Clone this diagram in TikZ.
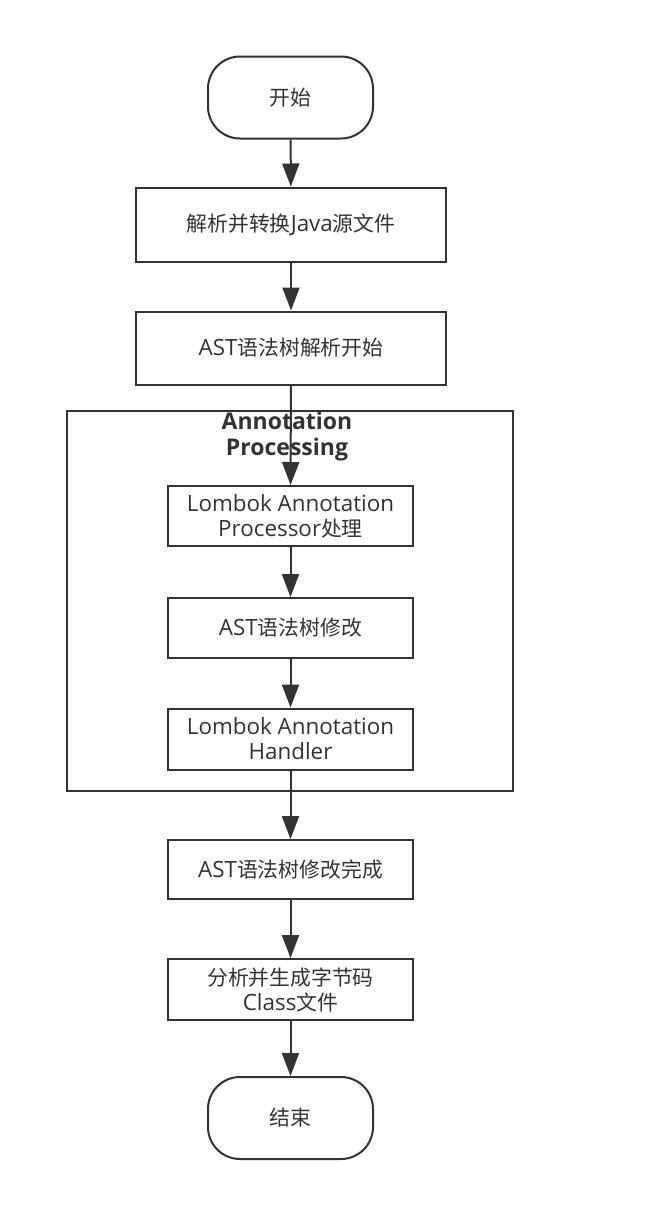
\documentclass[tikz,border=0pt]{standalone}
\usepackage{fontspec}
\setmainfont{Open Sans}
\newfontfamily\cjk{Noto Sans CJK SC}[Scale=0.93]
\usetikzlibrary{arrows.meta,positioning}
\definecolor{ink}{HTML}{333333}
\tikzset{
  base/.style={draw=ink,line width=2pt,text=ink,align=center,inner sep=0pt,
    font=\fontsize{22.4}{25}\selectfont},
  term/.style={base,rounded corners=32pt,minimum width=165pt,minimum height=82pt},
  bigbox/.style={base,minimum width=310pt,minimum height=73pt},
  smallbox/.style={base,minimum width=245pt,minimum height=60pt},
  flow/.style={draw=ink,line width=2pt,-{Triangle[length=23pt,width=17pt]}},
  grp/.style={draw=ink,line width=2pt},
  grptitle/.style={text=ink,align=center,inner sep=0pt,font=\fontsize{23}{26}\selectfont\bfseries}
}
\begin{document}
\begin{tikzpicture}[x=1pt,y=-1pt]
\useasboundingbox (0,0) rectangle (654,1216);
\node[grp,inner sep=0pt,minimum width=446pt,minimum height=380pt] (container) at (290,601) {};
\node[grptitle,anchor=north] (title) at (287,412) {Annotation\\Processing};
\node[term] (start) at (290.5,97.5) {\cjk 开始};
\node[bigbox,minimum height=74pt] (b1) at (291,224.5) {\cjk 解析并转换\fontspec{Open Sans}Java\cjk 源文件};
\node[bigbox] (b2) at (291,348) {AST\cjk 语法树解析开始};
\node[smallbox] (b3) at (290.5,516) {Lombok Annotation\\Processor\cjk 处理};
\node[smallbox] (b4) at (290.5,628) {AST\cjk 语法树修改};
\node[smallbox,minimum height=61pt] (b5) at (290.5,739) {Lombok Annotation\\Handler};
\node[smallbox,minimum height=59pt] (b6) at (290.5,869.5) {AST\cjk 语法树修改完成};
\node[smallbox,minimum height=61pt] (b7) at (290.5,989.5) {\cjk 分析并生成字节码\\Class\cjk 文件};
\node[term] (end) at (290.5,1118) {\cjk 结束};
\draw[flow] (start) -- (b1);
\draw[flow] (b1) -- (b2);
\draw[flow] (b2) -- (b3);
\draw[flow] (b3) -- (b4);
\draw[flow] (b4) -- (b5);
\draw[flow] (b5) -- (b6);
\draw[flow] (b6) -- (b7);
\draw[flow] (b7) -- (end);
\end{tikzpicture}
\end{document}
